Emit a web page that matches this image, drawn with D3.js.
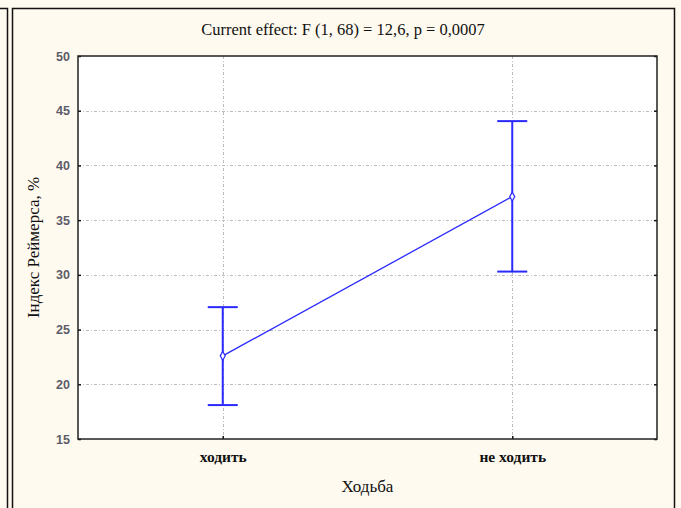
<!DOCTYPE html>
<html>
<head>
<meta charset="utf-8">
<script src="https://cdn.jsdelivr.net/npm/d3@7"></script>
<style>
body { margin: 0; background: #fffaef; }
</style>
</head>
<body>
<svg></svg>
<script>
const width = 681;
const height = 508;
const serif = "'Liberation Serif', 'DejaVu Serif', serif";
const sans = "'Liberation Sans', Arial, sans-serif";

// data
const categories = ["ходить", "не ходить"];
const means = [22.6, 37.15];
const upper = [27.05, 44.05];
const lower = [18.1, 30.3];
const yTicks = [15, 20, 25, 30, 35, 40, 45, 50];

const svg = d3.select("svg").attr("width", width).attr("height", height);

// фон и рамки панелей
svg.append("rect").attr("width", width).attr("height", height).attr("fill", "#fffaef");
svg.append("path")
	.attr("d", "M0,8.5H7.5V508")
	.attr("fill", "none").attr("stroke", "#111").attr("stroke-width", 1.5);
svg.append("path")
	.attr("d", "M12.5,508V8.5H674.5V508")
	.attr("fill", "none").attr("stroke", "#111").attr("stroke-width", 1.5);

const pLeft = 78, pRight = 657, pTop = 56, pBottom = 439;

const x = d3.scalePoint().domain(categories).range([pLeft, pRight]).padding(0.5);
const y = d3.scaleLinear().domain([15, 50]).range([pBottom, pTop]);

svg.append("rect")
	.attr("x", pLeft).attr("y", pTop)
	.attr("width", pRight - pLeft).attr("height", pBottom - pTop)
	.attr("fill", "#fff");

// сетка
const grid = svg.append("g")
	.attr("stroke", "#bdbdbd")
	.attr("stroke-width", 1)
	.attr("stroke-dasharray", "3,2,1,2");
grid.selectAll(".hg").data(yTicks.filter(d => d > 15 && d < 50)).join("line")
	.attr("x1", pLeft).attr("x2", pRight)
	.attr("y1", d => Math.round(y(d)) + 0.5).attr("y2", d => Math.round(y(d)) + 0.5);
grid.selectAll(".vg").data(categories).join("line")
	.attr("x1", d => Math.round(x(d)) + 0.5).attr("x2", d => Math.round(x(d)) + 0.5)
	.attr("y1", pTop).attr("y2", pBottom);

// оси
const yAxis = svg.append("g")
	.attr("transform", `translate(${pLeft},0)`)
	.call(d3.axisLeft(y).tickValues(yTicks).tickSize(-3).tickPadding(8));
const yAxisR = svg.append("g")
	.attr("transform", `translate(${pRight},0)`)
	.call(d3.axisRight(y).tickValues(yTicks).tickSize(-3).tickFormat(""));
const xAxis = svg.append("g")
	.attr("transform", `translate(0,${pBottom})`)
	.call(d3.axisBottom(x).tickSize(-3).tickPadding(12));
[yAxis, yAxisR, xAxis].forEach(a => {
	a.select(".domain").remove();
	a.selectAll(".tick line").attr("stroke", "#111").attr("stroke-width", 1.5);
});
yAxis.selectAll("text")
	.style("font-family", sans)
	.style("font-weight", "bold")
	.style("font-size", "12.5px")
	.attr("fill", "#5c5c68");
xAxis.selectAll("text")
	.style("font-family", serif)
	.style("font-weight", "bold")
	.style("font-size", "15.5px")
	.attr("fill", "#111");

svg.append("rect")
	.attr("x", pLeft).attr("y", pTop)
	.attr("width", pRight - pLeft).attr("height", pBottom - pTop)
	.attr("fill", "none").attr("stroke", "#222").attr("stroke-width", 1.5);

// линия средних
const line = d3.line().x((d, i) => x(categories[i])).y(d => y(d));
svg.append("path")
	.attr("d", line(means))
	.attr("fill", "none").attr("stroke", "#2a2aff").attr("stroke-width", 1.3);

// доверительные интервалы
const bars = svg.append("g").attr("stroke", "#2a2aff").attr("stroke-width", 2);
categories.forEach((c, i) => {
	const cx = x(c);
	bars.append("line").attr("x1", cx).attr("x2", cx).attr("y1", y(upper[i])).attr("y2", y(lower[i]));
	bars.append("line").attr("x1", cx - 15).attr("x2", cx + 15).attr("y1", y(upper[i])).attr("y2", y(upper[i]));
	bars.append("line").attr("x1", cx - 15).attr("x2", cx + 15).attr("y1", y(lower[i])).attr("y2", y(lower[i]));
});
svg.selectAll(".pt").data(means).join("path")
	.attr("d", d3.symbol(d3.symbolDiamond, 22))
	.attr("transform", (d, i) => `translate(${x(categories[i])},${y(d)})`)
	.attr("fill", "#fff").attr("stroke", "#2a2aff").attr("stroke-width", 1.2);

// подписи
svg.append("text")
	.attr("x", 343).attr("y", 35)
	.attr("text-anchor", "middle")
	.style("font-family", serif)
	.style("font-size", "16.5px")
	.attr("fill", "#111")
	.text("Current effect: F (1, 68) = 12,6, p = 0,0007");
svg.append("text")
	.attr("x", (pLeft + pRight) / 2).attr("y", 492)
	.attr("text-anchor", "middle")
	.style("font-family", serif)
	.style("font-size", "17px")
	.attr("fill", "#111")
	.text("Ходьба");
svg.append("text")
	.attr("transform", `translate(39,${(pTop + pBottom) / 2}) rotate(-90)`)
	.attr("text-anchor", "middle")
	.style("font-family", serif)
	.style("font-size", "17px")
	.attr("fill", "#111")
	.text("Індекс Реймерса, %");
</script>
</body>
</html>
